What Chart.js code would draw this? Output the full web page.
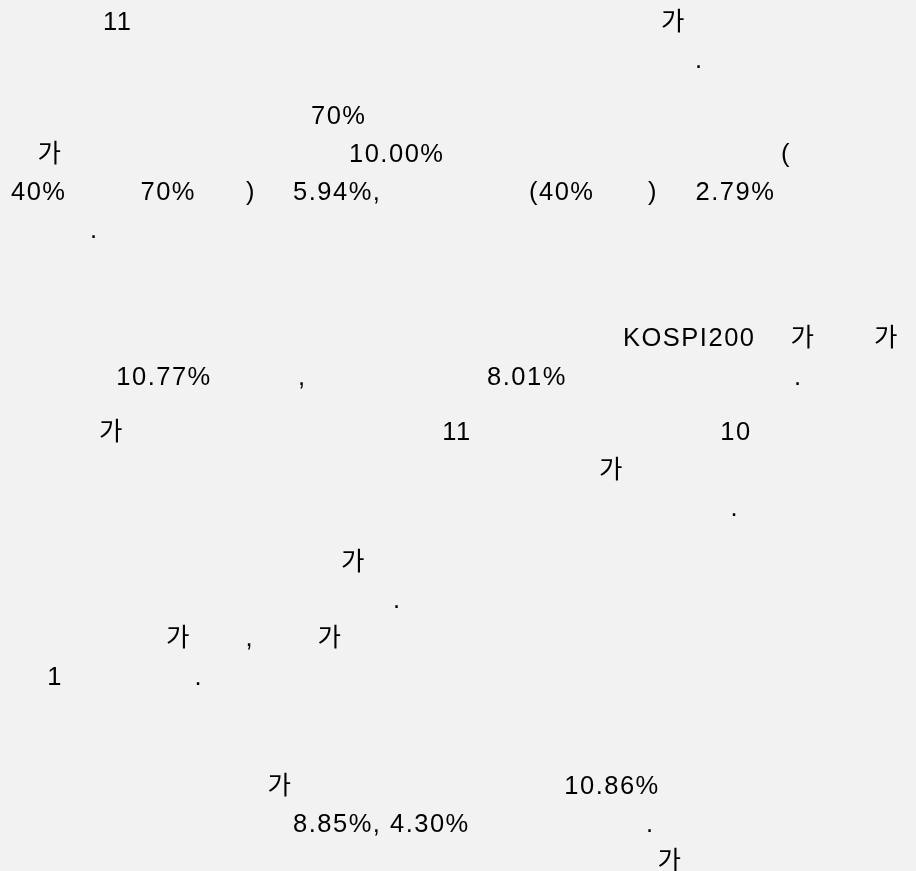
<!DOCTYPE html>
<html>
<head>
<meta charset="utf-8">
<script src="https://cdn.jsdelivr.net/npm/chart.js@4/dist/chart.umd.min.js"></script>
<style>
  html, body { margin: 0; padding: 0; background: #f2f2f2; }
  #wrap { width: 916px; height: 871px; }
</style>
</head>
<body>
<div id="wrap"><canvas id="c" width="916" height="871"></canvas></div>
<script>
// Text fragments (the visible content), their column (x) and baseline row (y)
const fragments = [
  "11", "가",
  ".",
  "70%",
  "가", "10.00%", "(",
  "40%", "70%", ")", "5.94%,", "(40%", ")", "2.79%",
  ".",
  "KOSPI200", "가", "가",
  "10.77%", ",", "8.01%", ".",
  "가", "11", "10",
  "가",
  ".",
  "가",
  ".",
  "가", ",", "가",
  "1", ".",
  "가", "10.86%",
  "8.85%, 4.30%", ".",
  "가"
];
const columns = [
  103, 661,
  695,
  311,
  37.5, 349, 781,
  11, 140.5, 246, 293, 529, 648, 695.5,
  90,
  623, 790.5, 874,
  116.3, 298, 487, 794,
  99, 442.3, 720.3,
  599,
  730.5,
  341,
  393,
  166, 245.5, 317.5,
  47.3, 194.5,
  267.5, 564.3,
  293, 646,
  657.5
];
const rows = [
  30, 30,
  68,
  124,
  162, 162, 162,
  200, 200, 200, 200, 200, 200, 200,
  238,
  346, 346, 346,
  385, 385, 385, 385,
  440, 440, 440,
  478,
  516,
  570,
  608,
  646,
  646, 646,
  685, 685,
  794, 794,
  832, 832,
  869
];

const FONT = '25.5px "Liberation Sans", Arial, "Noto Sans CJK KR", sans-serif';

const textPlugin = {
  id: 'textFragments',
  afterDatasetsDraw(chart) {
    const ctx = chart.ctx;
    const xs = chart.scales.x, ys = chart.scales.y;
    ctx.save();
    ctx.font = FONT;
    ctx.fillStyle = '#000';
    ctx.textAlign = 'left';
    ctx.textBaseline = 'alphabetic';
    try { ctx.letterSpacing = '1.5px'; } catch (e) {}
    chart.data.datasets[0].data.forEach(p => {
      ctx.fillText(p.label, xs.getPixelForValue(p.x), ys.getPixelForValue(p.y));
    });
    ctx.restore();
  }
};

new Chart(document.getElementById('c'), {
  type: 'scatter',
  data: {
    datasets: [{
      data: fragments.map((t, i) => ({ x: columns[i], y: rows[i], label: t })),
      pointRadius: 0,
      pointHoverRadius: 0
    }]
  },
  options: {
    responsive: false,
    animation: false,
    events: [],
    layout: { padding: 0 },
    plugins: { legend: { display: false }, tooltip: { enabled: false } },
    scales: {
      x: { type: 'linear', min: 0, max: 916, display: false },
      y: { type: 'linear', min: 0, max: 871, reverse: true, display: false }
    }
  },
  plugins: [textPlugin]
});
</script>
</body>
</html>
